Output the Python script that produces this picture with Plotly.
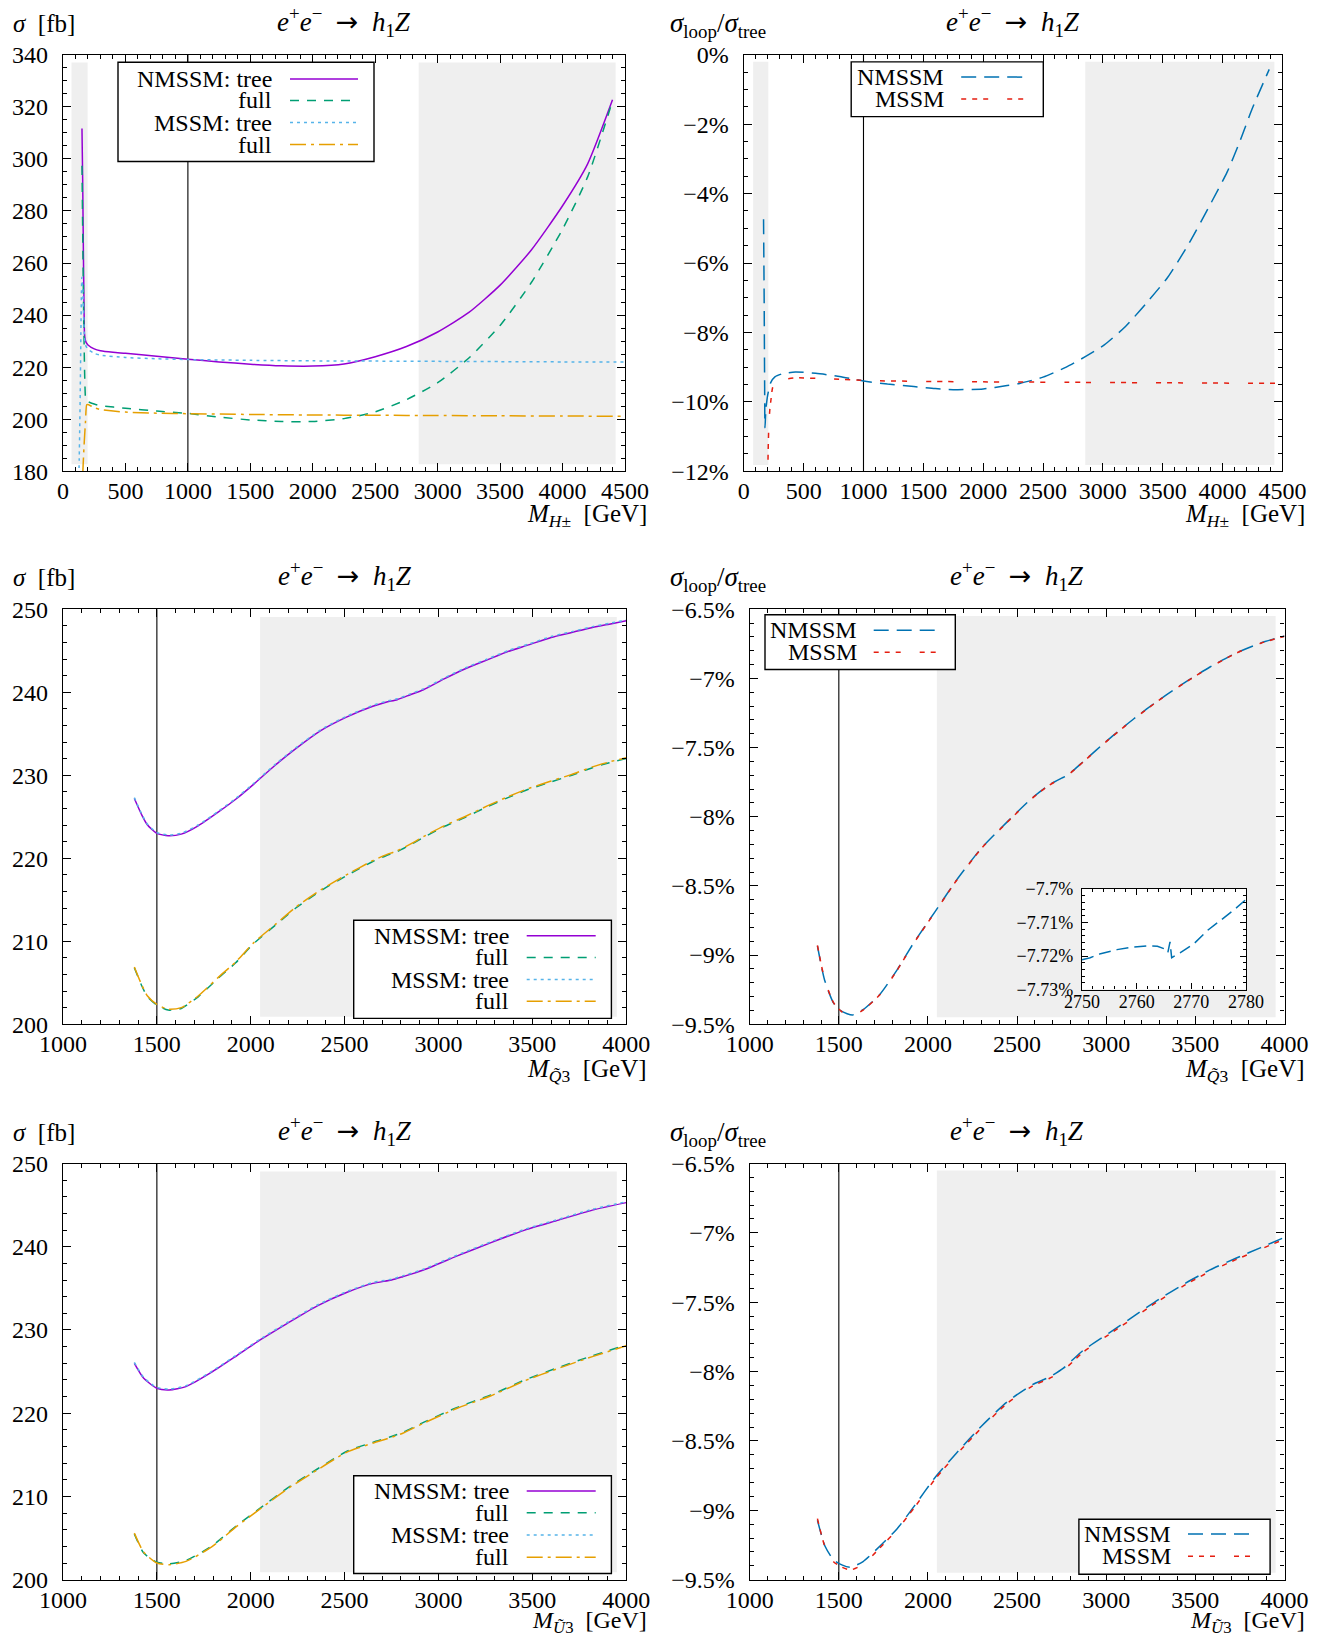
import plotly.graph_objects as go

W, H = 1320, 1638
FONT = "Liberation Serif"
FS = 24
FS_IN = 18

# ---------------- data ----------------
# Panel 1: sigma vs M_H+-  [fb]
mh_tree_n_x = [152, 158, 163, 168, 172, 178, 185, 200, 250, 300, 400, 500, 750, 1000, 1250, 1500, 1750, 2000,
               2250, 2500, 2750, 3000, 3250, 3500, 3750, 4000, 4200, 4400]
mh_tree_n_y = [311.7, 290, 265, 245, 233, 230.5, 229.5, 228.5, 227.0, 226.3, 225.7, 225.3, 224.2, 223.0, 222.0,
               221.1, 220.5, 220.4, 221.2, 224.0, 227.9, 233.5, 241.0, 251.5, 265.0, 282.0, 298.0, 322.7]
mh_full_n_x = [152, 160, 168, 175, 182, 190, 200, 250, 300, 500, 750, 1000, 1250, 1500, 1750, 2000, 2250, 2500,
               2750, 3000, 3250, 3500, 3750, 4000, 4200, 4400]
mh_full_n_y = [297.4, 262, 232, 214, 207.5, 207.0, 206.7, 205.8, 205.2, 204.2, 203.1, 202.2, 200.8, 199.7, 199.1,
               199.1, 200.2, 202.8, 207.5, 214.0, 223.5, 236.0, 252.5, 273.0, 293.0, 322.3]
mh_tree_m_x = [120, 130, 138, 145, 151, 158, 165, 172, 180, 200, 250, 300, 500, 750, 1000, 1500, 2000, 2500,
               3000, 3500, 4000, 4500]
mh_tree_m_y = [165, 185, 210, 240, 254.5, 250, 240, 231.5, 228.5, 226.8, 225.3, 224.6, 223.7, 223.2, 222.9,
               222.6, 222.4, 222.3, 222.2, 222.1, 222.0, 222.0]
mh_full_m_x = [150, 160, 170, 180, 190, 200, 250, 300, 500, 750, 1000, 1500, 2000, 2500, 3000, 3500, 4000, 4500]
mh_full_m_y = [168, 181, 191, 199, 205.5, 205.6, 204.4, 203.7, 202.7, 202.3, 202.1, 201.8, 201.6, 201.5, 201.4,
               201.3, 201.2, 201.1]

# Panel 2: sigma_loop/sigma_tree vs M_H+-  [%]
mh_rat_n_x = [165, 170, 174, 177, 185, 200, 226, 260, 325, 431, 600, 800, 1000, 1200, 1421, 1600, 1775, 2000,
              2200, 2305, 2500, 2694, 2853, 3012, 3189, 3365, 3542, 3719, 3896, 4037, 4143, 4249, 4390]
mh_rat_n_y = [-4.74, -7.0, -9.5, -10.75, -10.2, -9.8, -9.44, -9.28, -9.19, -9.14, -9.18, -9.27, -9.40, -9.49,
              -9.56, -9.62, -9.65, -9.63, -9.53, -9.47, -9.29, -9.0, -8.70, -8.36, -7.83, -7.15, -6.41, -5.44,
              -4.32, -3.39, -2.51, -1.54, -0.42]
mh_rat_m_x = [198, 203, 210, 218, 226, 240, 260, 325, 431, 714, 1068, 1775, 2835, 4500]
mh_rat_m_y = [-13.0, -11.5, -10.6, -10.2, -9.97, -9.6, -9.45, -9.36, -9.31, -9.34, -9.39, -9.42, -9.44, -9.47]

# Panel 3: sigma vs M_Q3  [fb]
mq_x = [1380, 1420, 1450, 1500, 1560, 1630, 1720, 1830, 1920, 2015, 2130, 2240, 2375, 2510, 2650, 2720, 2780,
        2850, 2920, 3030, 3140, 3260, 3370, 3480, 3600, 3710, 3820, 3910, 4000]
mq_tree_n = [227.2, 225.2, 224.0, 223.0, 222.7, 222.9, 223.9, 225.6, 227.1, 228.9, 231.2, 233.2, 235.4, 237.0,
             238.3, 238.8, 239.1, 239.7, 240.3, 241.6, 242.8, 243.9, 244.9, 245.7, 246.6, 247.2, 247.8, 248.2,
             248.6]
mq_full_n = [206.8, 204.6, 203.3, 202.3, 201.7, 201.9, 203.3, 205.6, 207.4, 209.7, 211.9, 214.0, 216.1, 217.9,
             219.6, 220.3, 220.8, 221.6, 222.5, 223.8, 224.9, 226.2, 227.3, 228.3, 229.2, 230.0, 230.9, 231.5,
             232.0]
mq_tree_m = [227.3, 225.3, 224.1, 223.1, 222.8, 223.0, 224.0, 225.7, 227.2, 229.0, 231.3, 233.3, 235.5, 237.1,
             238.4, 238.9, 239.2, 239.8, 240.4, 241.7, 242.9, 244.0, 245.0, 245.8, 246.7, 247.3, 247.9, 248.3,
             248.7]
mq_full_m = [206.9, 204.7, 203.4, 202.4, 201.8, 202.0, 203.4, 205.7, 207.5, 209.8, 212.0, 214.1, 216.2, 218.0,
             219.7, 220.4, 220.9, 221.7, 222.6, 223.9, 225.0, 226.3, 227.4, 228.4, 229.3, 230.1, 231.0, 231.6,
             232.1]

# Panel 4: ratio vs M_Q3 [%]
mq_r_x = [1380, 1420, 1470, 1517, 1577, 1636, 1731, 1826, 1921, 2040, 2158, 2301, 2443, 2585, 2680, 2750, 2780,
          2870, 3013, 3155, 3297, 3440, 3582, 3724, 3867, 4000]
mq_rat_n = [-8.935, -9.18, -9.346, -9.408, -9.433, -9.395, -9.283, -9.109, -8.910, -8.686, -8.462, -8.225,
            -8.039, -7.864, -7.770, -7.721, -7.703, -7.603, -7.441, -7.292, -7.155, -7.030, -6.918, -6.819,
            -6.744, -6.694]
mq_rat_m = [-8.930, -9.175, -9.344, -9.410, -9.436, -9.398, -9.286, -9.112, -8.913, -8.689, -8.465, -8.228,
            -8.042, -7.867, -7.772, -7.722, -7.704, -7.605, -7.443, -7.294, -7.157, -7.032, -6.920, -6.821,
            -6.746, -6.696]

# Inset of panel 4 (NMSSM ratio, zoom)
ins_x = [2750, 2751.5, 2753.4, 2756.4, 2759.5, 2761.9, 2763.8, 2765.0, 2765.7, 2766.1, 2766.4, 2768.0, 2770.5,
         2773.0, 2775.4, 2777.9, 2780]
ins_y = [-7.7211, -7.7205, -7.7193, -7.7181, -7.7173, -7.7170, -7.7171, -7.7178, -7.7190, -7.7158, -7.7205,
         -7.7190, -7.7163, -7.7123, -7.7093, -7.7061, -7.7031]

# Panel 5: sigma vs M_U3 [fb]
mu_x = [1380, 1430, 1500, 1565, 1655, 1790, 1925, 2050, 2195, 2355, 2510, 2650, 2750, 2810, 2920, 3100, 3280,
        3460, 3640, 3820, 4000]
mu_tree_n = [226.0, 224.2, 223.0, 222.8, 223.2, 224.9, 226.9, 228.8, 230.8, 232.9, 234.5, 235.6, 236.0, 236.4,
             237.2, 238.9, 240.5, 242.0, 243.2, 244.4, 245.3]
mu_full_n = [205.5, 203.2, 202.1, 201.9, 202.3, 204.0, 206.5, 208.6, 211.0, 213.3, 215.4, 216.5, 217.2, 217.7,
             218.9, 220.7, 222.2, 224.0, 225.5, 226.9, 228.2]
mu_tree_m = [226.1, 224.3, 223.1, 222.9, 223.3, 225.0, 227.0, 228.9, 230.9, 233.0, 234.6, 235.7, 236.1, 236.5,
             237.3, 239.0, 240.6, 242.1, 243.3, 244.5, 245.4]
mu_full_m = [205.6, 203.3, 202.0, 201.8, 202.2, 203.9, 206.4, 208.5, 210.9, 213.2, 215.3, 216.4, 217.1, 217.6,
             218.8, 220.6, 222.1, 223.9, 225.4, 226.8, 228.1]

# Panel 6: ratio vs M_U3 [%]
mu_r_x = [1380, 1422, 1470, 1517, 1565, 1636, 1731, 1826, 1921, 2040, 2158, 2301, 2443, 2585, 2680, 2760, 2870,
          3013, 3155, 3297, 3440, 3582, 3724, 3867, 4000]
mu_rat_n = [-9.072, -9.257, -9.356, -9.393, -9.411, -9.369, -9.257, -9.134, -8.973, -8.763, -8.590, -8.392,
            -8.219, -8.095, -8.040, -7.975, -7.848, -7.724, -7.600, -7.477, -7.366, -7.267, -7.185, -7.106, -7.032]
mu_rat_m = [-9.060, -9.262, -9.370, -9.410, -9.430, -9.390, -9.270, -9.140, -8.985, -8.775, -8.600, -8.405,
            -8.230, -8.105, -8.050, -7.990, -7.860, -7.735, -7.612, -7.488, -7.377, -7.278, -7.195, -7.117, -7.045]

# shaded (excluded) regions: (x0, x1, y0, y1)
shade_p1 = [(68, 197, 182.7, 337.0), (2848, 4425, 182.7, 337.0)]
shade_p2 = [(78, 205, -11.82, -0.2), (2853, 4433, -11.82, -0.2)]
shade_p34 = [(2050, 3950, 200.9, 249.05)]
shade_ratio = [(2050, 3950, -9.45, -6.55)]
vline_mh = 1000
vline_msq = 1500

pct_ticks_top = [0, -2, -4, -6, -8, -10, -12]
pct_ticks_mid = [-6.5, -7, -7.5, -8, -8.5, -9, -9.5]
pct_ticks_ins = [-7.70, -7.71, -7.72, -7.73]

# ---------------- styles ----------------
S_NT = ("#9400d3", "solid")
S_NF = ("#009e73", "9px,8px")
S_MT = ("#56b4e9", "3px,4px")
S_MF = ("#e69f00", "16px,5px,3px,5px")
S_NR = ("#0072b2", "15px,8px")
S_MR = ("#e51e10", "5px,6px,5px,6px,5px,19px")
SHADE = "#efefef"
LW = 1.5


def fx(p):
    return p / W


def fy(p):
    return 1 - p / H


FRAMES = {
    1: (63.0, 54.8, 625.0, 471.2),
    2: (743.8, 54.8, 1282.4, 471.2),
    3: (63.0, 609.2, 626.2, 1024.2),
    4: (749.7, 609.2, 1284.5, 1024.2),
    5: (63.0, 1163.5, 626.2, 1579.7),
    6: (749.7, 1163.5, 1284.5, 1579.7),
    7: (1082.0, 889.0, 1246.0, 989.5),
}


def ids(n):
    s = "" if n == 1 else str(n)
    return "x" + s, "y" + s, "xaxis" + s, "yaxis" + s


fig = go.Figure()
shapes = []
annotations = []


def add_line(n, x, y, style, smooth=True):
    xr, yr, _, _ = ids(n)
    line = dict(color=style[0], dash=style[1], width=LW)
    if smooth:
        line.update(shape="spline", smoothing=0.6)
    fig.add_trace(go.Scatter(x=x, y=y, mode="lines", xaxis=xr, yaxis=yr, showlegend=False,
                             hoverinfo="skip", line=line))


def pct_text(v):
    s = ("%g" % abs(v)) + "%"
    return ("\u2212" + s) if v < 0 else s


layout_axes = {}


def make_axes(n, xr, yr, xmaj, xmin, ymaj=None, ymin=None, yvals=None, fs=FS, tl=8, ml=4, xso=-2, yso=9):
    xid, yid, xkey, ykey = ids(n)
    l, t, r, b = FRAMES[n]
    common = dict(showline=True, linecolor="black", linewidth=1.4, mirror="allticks", ticks="inside",
                  ticklen=tl, tickwidth=1.1, tickcolor="black", showgrid=False, zeroline=False,
                  automargin=False, tickfont=dict(family=FONT, size=fs, color="black"))
    xa = dict(common, domain=[fx(l), fx(r)], range=xr, anchor=yid, dtick=xmaj, tick0=0, tickformat="d",
              ticklabelstandoff=xso,
              minor=dict(ticks="inside", ticklen=ml, tickwidth=1, tickcolor="black", dtick=xmin, tick0=0,
                         showgrid=False))
    ya = dict(common, domain=[fy(b), fy(t)], range=yr, anchor=xid, ticklabelstandoff=yso,
              minor=dict(ticks="inside", ticklen=ml, tickwidth=1, tickcolor="black", dtick=ymin, tick0=0,
                         showgrid=False))
    if yvals is not None:
        ya.update(tickmode="array", tickvals=yvals, ticktext=[pct_text(v) for v in yvals])
    else:
        ya.update(dtick=ymaj, tick0=0, tickformat="d")
    layout_axes[xkey] = xa
    layout_axes[ykey] = ya


make_axes(1, [0, 4500], [180, 340], 500, 100, 20, 5)
make_axes(2, [0, 4500], [-12, 0], 500, 100, ymin=0.5, yvals=pct_ticks_top)
make_axes(3, [1000, 4000], [200, 250], 500, 100, 10, 2)
make_axes(4, [1000, 4000], [-9.5, -6.5], 500, 100, ymin=0.1, yvals=pct_ticks_mid)
make_axes(5, [1000, 4000], [200, 250], 500, 100, 10, 2)
make_axes(6, [1000, 4000], [-9.5, -6.5], 500, 100, ymin=0.1, yvals=pct_ticks_mid)
make_axes(7, [2750, 2780], [-7.73, -7.70], 10, 2, ymin=0.002, yvals=pct_ticks_ins, fs=FS_IN, tl=6, ml=3,
          xso=-4, yso=4)


def shade(n, regions):
    xr, yr, _, _ = ids(n)
    for (x0, x1, y0, y1) in regions:
        shapes.append(dict(type="rect", xref=xr, yref=yr, x0=x0, x1=x1, y0=y0, y1=y1,
                           fillcolor=SHADE, line=dict(width=0), layer="below"))


def vline(n, xv):
    xr, yr, _, _ = ids(n)
    shapes.append(dict(type="line", xref=xr, yref=yr + " domain", x0=xv, x1=xv, y0=0, y1=1,
                       line=dict(color="black", width=1.1), layer="below"))


shade(1, shade_p1); vline(1, vline_mh)
shade(2, shade_p2); vline(2, vline_mh)
shade(3, shade_p34); vline(3, vline_msq)
shade(4, shade_ratio); vline(4, vline_msq)
shade(5, shade_p34); vline(5, vline_msq)
shade(6, shade_ratio); vline(6, vline_msq)

# traces
add_line(1, mh_tree_n_x, mh_tree_n_y, S_NT)
add_line(1, mh_full_n_x, mh_full_n_y, S_NF)
add_line(1, mh_tree_m_x, mh_tree_m_y, S_MT)
add_line(1, mh_full_m_x, mh_full_m_y, S_MF)
add_line(2, mh_rat_n_x, mh_rat_n_y, S_NR)
add_line(2, mh_rat_m_x, mh_rat_m_y, S_MR)
add_line(3, mq_x, mq_tree_n, S_NT)
add_line(3, mq_x, mq_full_n, S_NF)
add_line(3, mq_x, mq_tree_m, S_MT)
add_line(3, mq_x, mq_full_m, S_MF)
add_line(4, mq_r_x, mq_rat_n, S_NR)
add_line(4, mq_r_x, mq_rat_m, S_MR)
add_line(5, mu_x, mu_tree_n, S_NT)
add_line(5, mu_x, mu_full_n, S_NF)
add_line(5, mu_x, mu_tree_m, S_MT)
add_line(5, mu_x, mu_full_m, S_MF)
add_line(6, mu_r_x, mu_rat_n, S_NR)
add_line(6, mu_r_x, mu_rat_m, S_MR)
add_line(7, ins_x, ins_y, (S_NR[0], "12px,6px"), smooth=False)


def text(s, x, y, xanchor="center", size=FS):
    annotations.append(dict(text=s, xref="paper", yref="paper", x=fx(x), y=fy(y), xanchor=xanchor,
                            yanchor="middle", showarrow=False,
                            font=dict(family=FONT, size=size, color="black")))


def legend(box, rows, text_right, s0, s1):
    x0, y0, x1, y1 = box
    shapes.append(dict(type="rect", xref="paper", yref="paper", x0=fx(x0), x1=fx(x1), y0=fy(y1), y1=fy(y0),
                       fillcolor="white", line=dict(color="black", width=1.4), layer="above"))
    for label, yy, st in rows:
        shapes.append(dict(type="line", xref="paper", yref="paper", x0=fx(s0), x1=fx(s1), y0=fy(yy),
                           y1=fy(yy), line=dict(color=st[0], dash=st[1], width=LW), layer="above"))
        text(label, text_right, yy, xanchor="right", size=24)


four = ["NMSSM: tree", "full", "MSSM: tree", "full"]
four_st = [S_NT, S_NF, S_MT, S_MF]
legend((118.0, 62.3, 374.0, 161.5), list(zip(four, [79.0, 100.4, 122.6, 144.5], four_st)), 273.5, 290.0, 358.0)
legend((851.2, 61.9, 1043.3, 116.6), [("NMSSM", 77.1, S_NR), ("MSSM", 99.0, S_MR)], 945.6, 961.2, 1029.0)
legend((353.7, 920.2, 611.4, 1018.4), list(zip(four, [935.7, 957.4, 979.5, 1001.2], four_st)), 510.7, 526.7, 595.7)
legend((765.0, 614.7, 955.3, 669.5), [("NMSSM", 630.2, S_NR), ("MSSM", 652.3, S_MR)], 858.9, 873.7, 941.4)
legend((353.7, 1475.7, 611.4, 1573.5), list(zip(four, [1491.1, 1512.8, 1535.1, 1557.3], four_st)), 510.7, 526.7,
       595.7)
legend((1078.9, 1519.3, 1270.1, 1574.2), [("NMSSM", 1534.0, S_NR), ("MSSM", 1556.3, S_MR)], 1172.8, 1188.0,
       1254.4)

SP = "\u2002"
ARROW = "<span style='font-family:DejaVu Sans'>\u2192</span>"
TITLE = "<i>e</i><sup>+</sup><i>e</i><sup>\u2212</sup>" + SP + ARROW + SP + "<i>h</i><sub>1</sub><i>Z</i>"
SIG = "<i>\u03c3</i>" + SP + "[fb]"
RAT = "<i>\u03c3</i><sub>loop</sub>/<i>\u03c3</i><sub>tree</sub>"
XH = "<i>M</i><sub><i>H</i>\u00b1</sub>" + SP + "[GeV]"
XQ = "<i>M</i><sub><i>Q\u0303</i>3</sub>" + SP + "[GeV]"
XU = "<i>M</i><sub><i>\u0168</i>3</sub>" + SP + "[GeV]"

for row, (ty, xty, xl, xs) in enumerate([(22, 515.5, XH, 25), (576, 1070, XQ, 25), (1131, 1622, XU, 24)]):
    n_left = 1 + 2 * row
    n_right = n_left + 1
    lft = FRAMES[n_left]
    rgt = FRAMES[n_right]
    text(TITLE, (lft[0] + lft[2]) / 2, ty, size=27)
    text(TITLE, (rgt[0] + rgt[2]) / 2, ty, size=27)
    text(SIG, 10.6, ty + 1.5, xanchor="left", size=25)
    text(RAT, 668, ty + 3, xanchor="left", size=27)
    text(xl, 649, xty, xanchor="right", size=xs)
    text(xl, 1306.5, xty, xanchor="right", size=xs)

fig.update_layout(width=W, height=H, margin=dict(l=0, r=0, t=0, b=0, pad=0, autoexpand=False),
                  paper_bgcolor="white", plot_bgcolor="#ffffff", showlegend=False, shapes=shapes,
                  annotations=annotations, font=dict(family=FONT, size=FS, color="black"), **layout_axes)

fig.write_html("out.html", config={"displayModeBar": False},
               post_script="document.body.style.margin='0px';document.body.style.overflow='hidden';")
